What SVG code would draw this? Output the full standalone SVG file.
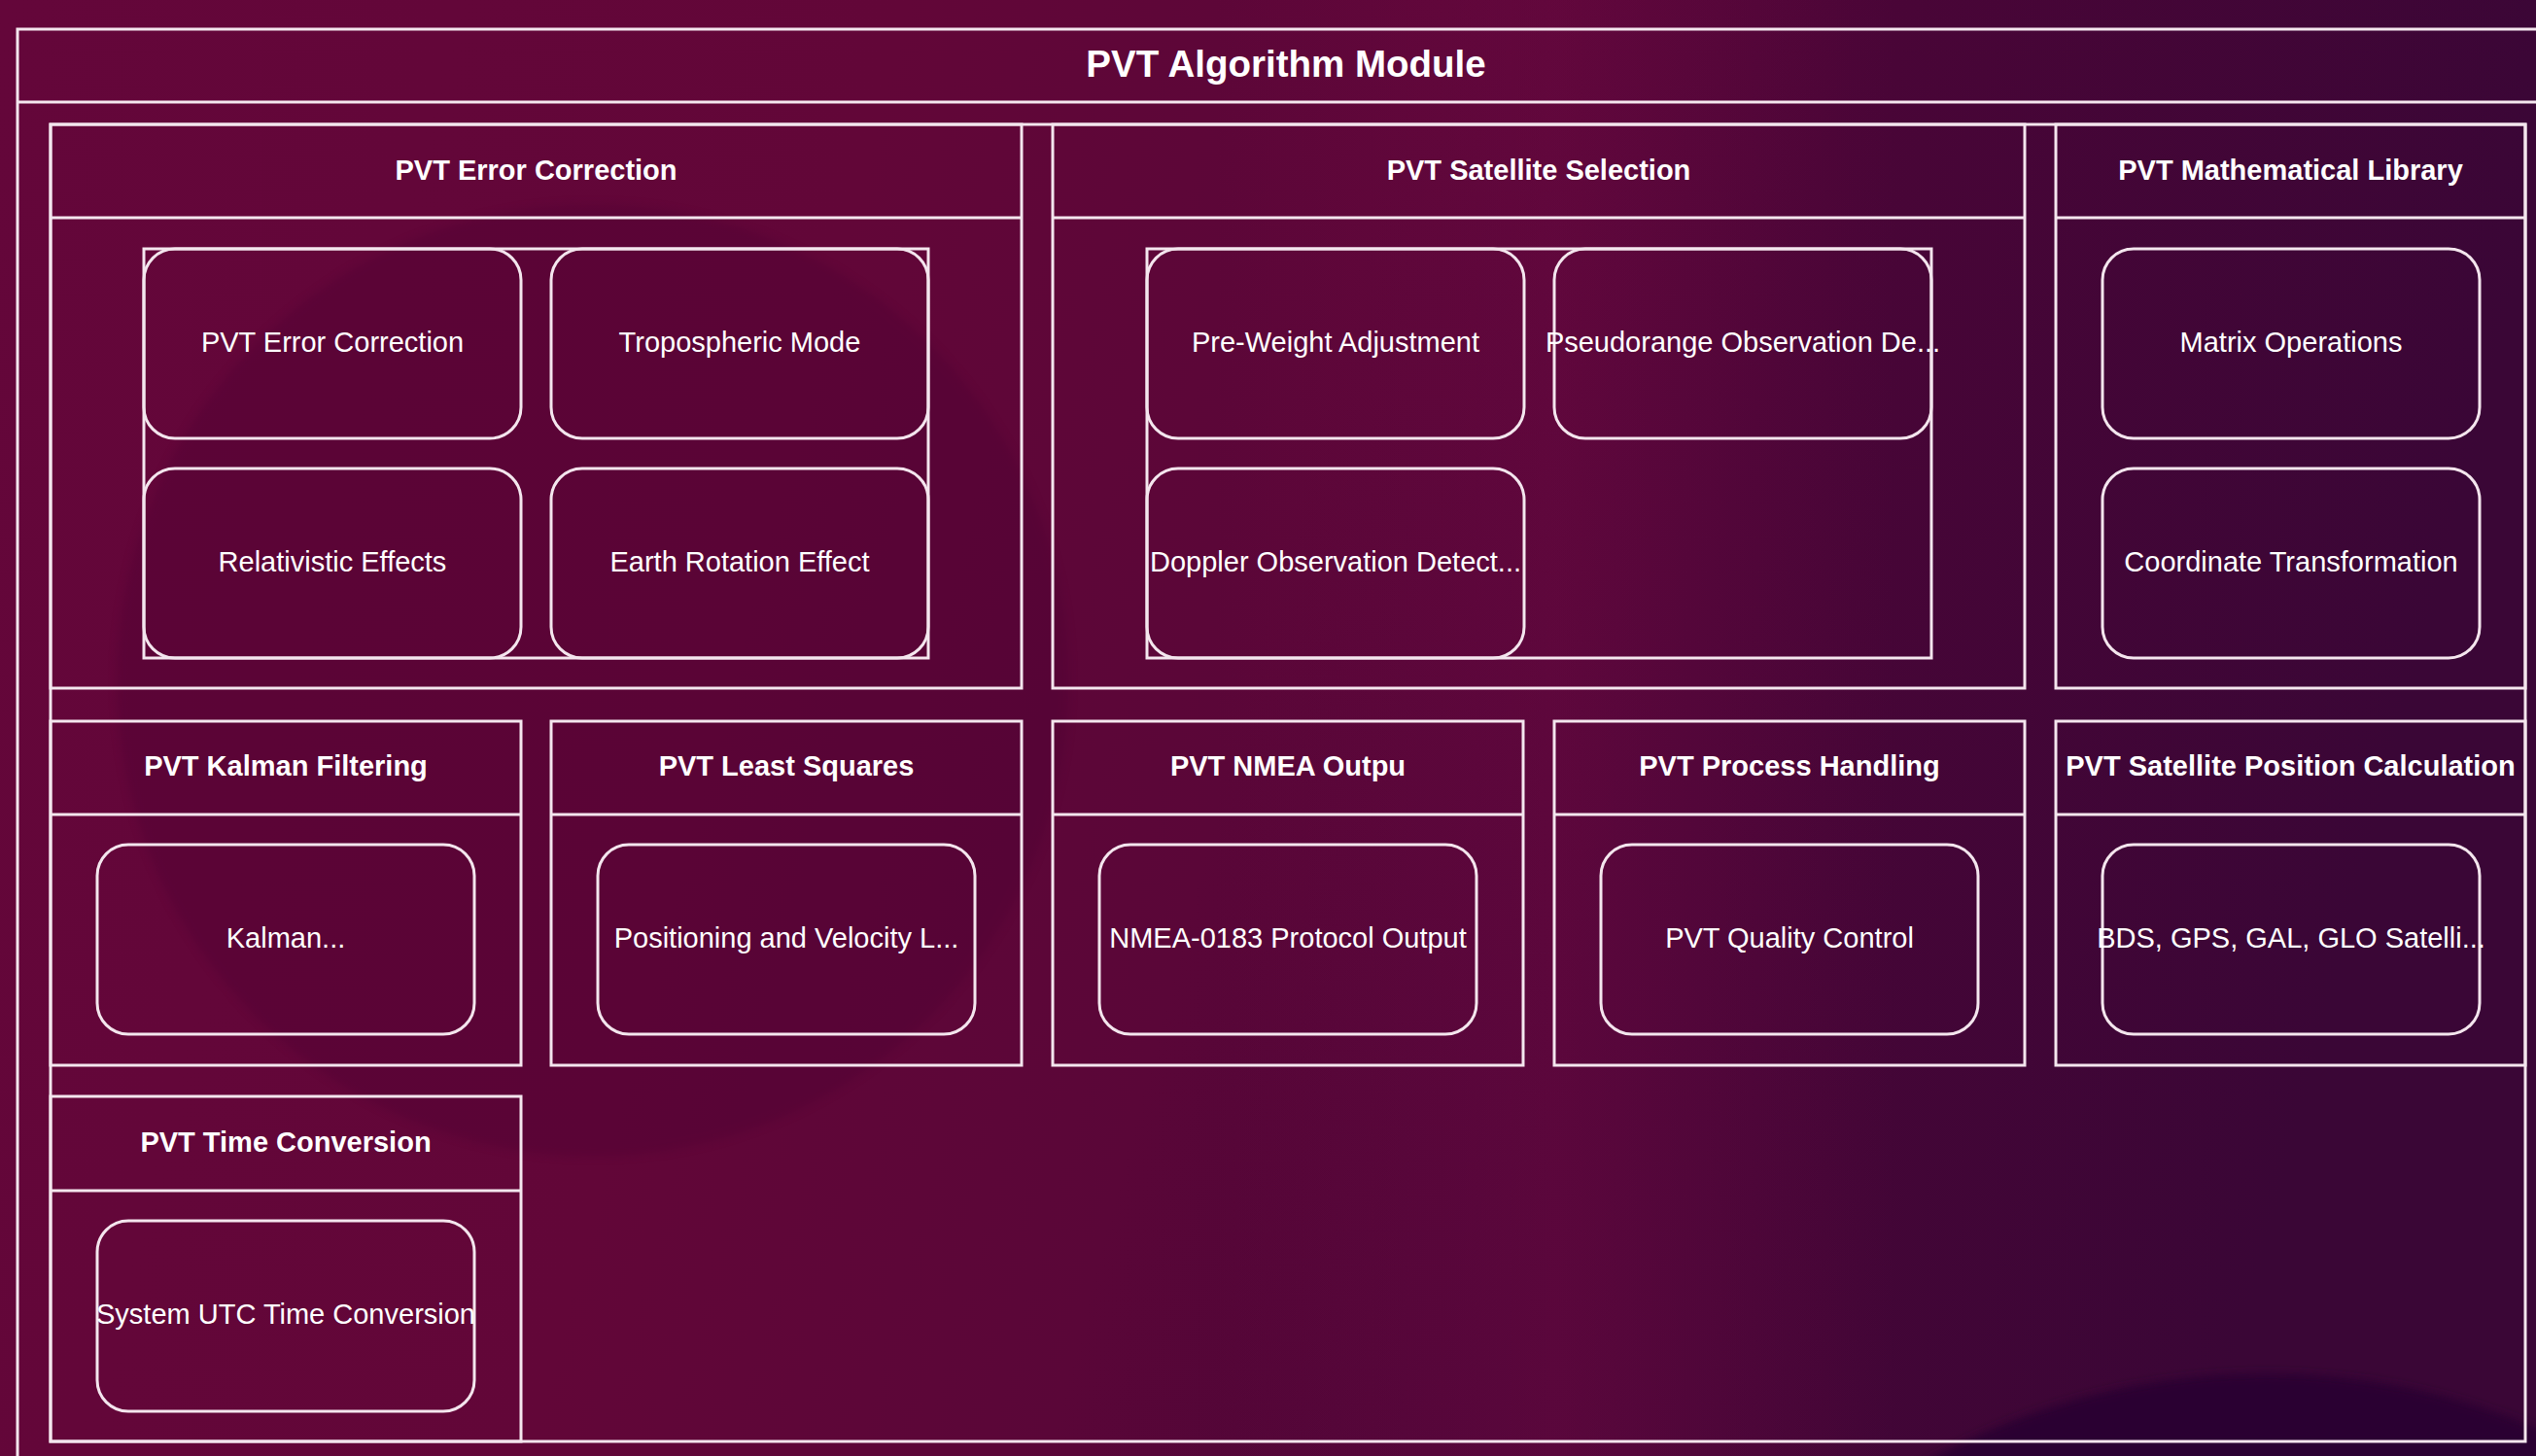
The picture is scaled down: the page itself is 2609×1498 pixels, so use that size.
<svg xmlns="http://www.w3.org/2000/svg" width="2609" height="1498" viewBox="0 0 2609 1498">
  <defs>
    <linearGradient id="bg" x1="0" y1="0" x2="1" y2="0.15">
      <stop offset="0" stop-color="#64063a"/>
      <stop offset="0.35" stop-color="#620638"/>
      <stop offset="0.55" stop-color="#5a0638"/>
      <stop offset="0.72" stop-color="#4a0537"/>
      <stop offset="1" stop-color="#3a0636"/>
    </linearGradient>
    <linearGradient id="band" x1="0" y1="0" x2="1" y2="0">
      <stop offset="0" stop-color="#7a0a45" stop-opacity="0"/>
      <stop offset="0.5" stop-color="#7a0a45" stop-opacity="0.35"/>
      <stop offset="1" stop-color="#7a0a45" stop-opacity="0"/>
    </linearGradient>
    <filter id="soft" x="-10%" y="-10%" width="120%" height="120%">
      <feGaussianBlur stdDeviation="5"/>
    </filter>
    <style>
      .frame { fill: none; stroke: #f4e6ee; stroke-width: 3; }
      .node { fill: none; stroke: #f4e6ee; stroke-width: 3; }
      .item { fill: none; stroke: #f4e6ee; stroke-width: 3; }
      .title { font-family: "Liberation Sans", Arial, sans-serif; font-size: 38.5px; font-weight: bold; fill: #ffffff; text-anchor: middle; }
      .head { font-family: "Liberation Sans", Arial, sans-serif; font-size: 29px; font-weight: bold; fill: #ffffff; text-anchor: middle; }
      .label { font-family: "Liberation Sans", Arial, sans-serif; font-size: 29px; fill: #ffffff; text-anchor: middle; }
    </style>
  </defs>

  <!-- backdrop -->
  <rect x="0" y="0" width="2609" height="1498" fill="url(#bg)"/>
  <rect x="1250" y="0" width="700" height="1498" fill="url(#band)"/>
  <circle cx="610" cy="700" r="490" fill="#4a0430" opacity="0.3" filter="url(#soft)"/>
  <circle cx="2331" cy="2134" r="721" fill="#2c0330" filter="url(#soft)"/>

  <!-- outer module frame -->
  <g id="pvt-algorithm-module">
    <rect class="frame" x="18" y="30" width="2640" height="1520"/>
    <line class="frame" x1="18" y1="105" x2="2658" y2="105"/>
    <text class="title" x="1323" y="66" dy="0.35em">PVT Algorithm Module</text>
  </g>

  <!-- inner container holding all sub-modules -->
  <g id="module-container">
    <rect class="frame" x="52" y="128" width="2546" height="1355"/>
  </g>

  <!-- row 1 -->
  <g id="error-correction">
    <rect class="node" x="52" y="128" width="999" height="580"/>
    <line class="node" x1="52" y1="224" x2="1051" y2="224"/>
    <text class="head" x="551.5" y="175" dy="0.35em">PVT Error Correction</text>
    <rect class="frame" x="148" y="256" width="807" height="421"/>
    <g id="ec-correction">
      <rect class="item" x="148" y="256" width="388" height="195" rx="32"/>
      <text class="label" x="342" y="352" dy="0.35em">PVT Error Correction</text>
    </g>
    <g id="ec-tropospheric">
      <rect class="item" x="567" y="256" width="388" height="195" rx="32"/>
      <text class="label" x="761" y="352" dy="0.35em">Tropospheric Mode</text>
    </g>
    <g id="ec-relativistic">
      <rect class="item" x="148" y="482" width="388" height="195" rx="32"/>
      <text class="label" x="342" y="578" dy="0.35em">Relativistic Effects</text>
    </g>
    <g id="ec-earth-rotation">
      <rect class="item" x="567" y="482" width="388" height="195" rx="32"/>
      <text class="label" x="761" y="578" dy="0.35em">Earth Rotation Effect</text>
    </g>
  </g>

  <g id="satellite-selection">
    <rect class="node" x="1083" y="128" width="1000" height="580"/>
    <line class="node" x1="1083" y1="224" x2="2083" y2="224"/>
    <text class="head" x="1583" y="175" dy="0.35em">PVT Satellite Selection</text>
    <rect class="frame" x="1180" y="256" width="807" height="421"/>
    <g id="ss-preweight">
      <rect class="item" x="1180" y="256" width="388" height="195" rx="32"/>
      <text class="label" x="1374" y="352" dy="0.35em">Pre-Weight Adjustment</text>
    </g>
    <g id="ss-pseudorange">
      <rect class="item" x="1599" y="256" width="388" height="195" rx="32"/>
      <text class="label" x="1793" y="352" dy="0.35em">Pseudorange Observation De...</text>
    </g>
    <g id="ss-doppler">
      <rect class="item" x="1180" y="482" width="388" height="195" rx="32"/>
      <text class="label" x="1374" y="578" dy="0.35em">Doppler Observation Detect...</text>
    </g>
  </g>

  <g id="mathematical-library">
    <rect class="node" x="2115" y="128" width="483" height="580"/>
    <line class="node" x1="2115" y1="224" x2="2598" y2="224"/>
    <text class="head" x="2356.5" y="175" dy="0.35em">PVT Mathematical Library</text>
    <g id="ml-matrix">
      <rect class="item" x="2163" y="256" width="388" height="195" rx="32"/>
      <text class="label" x="2357" y="352" dy="0.35em">Matrix Operations</text>
    </g>
    <g id="ml-coordinate">
      <rect class="item" x="2163" y="482" width="388" height="195" rx="32"/>
      <text class="label" x="2357" y="578" dy="0.35em">Coordinate Transformation</text>
    </g>
  </g>

  <!-- row 2 -->
  <g id="kalman-filtering">
    <rect class="node" x="52" y="742" width="484" height="354"/>
    <line class="node" x1="52" y1="838" x2="536" y2="838"/>
    <text class="head" x="294" y="788" dy="0.35em">PVT Kalman Filtering</text>
    <rect class="item" x="100" y="869" width="388" height="195" rx="32"/>
    <text class="label" x="294" y="965" dy="0.35em">Kalman...</text>
  </g>

  <g id="least-squares">
    <rect class="node" x="567" y="742" width="484" height="354"/>
    <line class="node" x1="567" y1="838" x2="1051" y2="838"/>
    <text class="head" x="809" y="788" dy="0.35em">PVT Least Squares</text>
    <rect class="item" x="615" y="869" width="388" height="195" rx="32"/>
    <text class="label" x="809" y="965" dy="0.35em">Positioning and Velocity L...</text>
  </g>

  <g id="nmea-output">
    <rect class="node" x="1083" y="742" width="484" height="354"/>
    <line class="node" x1="1083" y1="838" x2="1567" y2="838"/>
    <text class="head" x="1325" y="788" dy="0.35em">PVT NMEA Outpu</text>
    <rect class="item" x="1131" y="869" width="388" height="195" rx="32"/>
    <text class="label" x="1325" y="965" dy="0.35em">NMEA-0183 Protocol Output</text>
  </g>

  <g id="process-handling">
    <rect class="node" x="1599" y="742" width="484" height="354"/>
    <line class="node" x1="1599" y1="838" x2="2083" y2="838"/>
    <text class="head" x="1841" y="788" dy="0.35em">PVT Process Handling</text>
    <rect class="item" x="1647" y="869" width="388" height="195" rx="32"/>
    <text class="label" x="1841" y="965" dy="0.35em">PVT Quality Control</text>
  </g>

  <g id="satellite-position">
    <rect class="node" x="2115" y="742" width="483" height="354"/>
    <line class="node" x1="2115" y1="838" x2="2598" y2="838"/>
    <text class="head" x="2356.5" y="788" dy="0.35em">PVT Satellite Position Calculation</text>
    <rect class="item" x="2163" y="869" width="388" height="195" rx="32"/>
    <text class="label" x="2357" y="965" dy="0.35em">BDS, GPS, GAL, GLO Satelli...</text>
  </g>

  <!-- row 3 -->
  <g id="time-conversion">
    <rect class="node" x="52" y="1128" width="484" height="355"/>
    <line class="node" x1="52" y1="1225" x2="536" y2="1225"/>
    <text class="head" x="294" y="1175" dy="0.35em">PVT Time Conversion</text>
    <rect class="item" x="100" y="1256" width="388" height="196" rx="32"/>
    <text class="label" x="294" y="1352" dy="0.35em">System UTC Time Conversion</text>
  </g>

  <!-- no connectors between modules -->
  <g id="connectors"/>
</svg>
